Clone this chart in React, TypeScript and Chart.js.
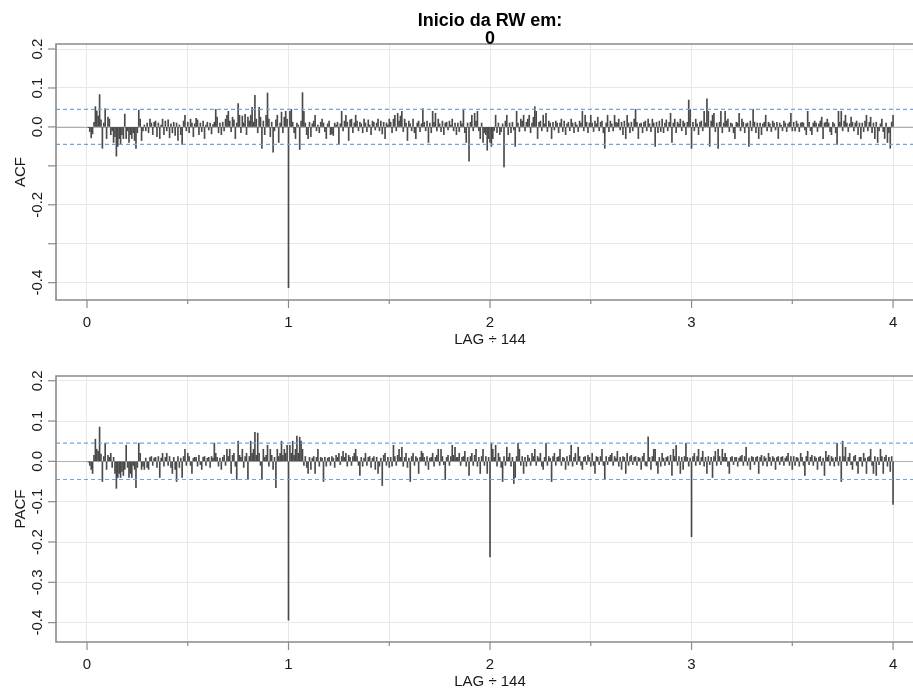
import React, { useEffect, useRef } from "react";
import { Chart, registerables } from "chart.js";
Chart.register(...registerables);

const TITLE_LINES = ["Inicio da RW em:", "0"];
const X_LABEL = "LAG \u00f7 144";
const LAG_DIVISOR = 144;
const LAGS_PER_BLOCK = 24;
const CONF_LIMIT = 0.045;

const X_MAJOR_TICKS = [0, 1, 2, 3, 4];
const X_MINOR_TICKS = [0.5, 1.5, 2.5, 3.5];
const ACF_Y_TICKS = [-0.4, -0.3, -0.2, -0.1, 0, 0.1, 0.2];
const ACF_Y_LABELED = [-0.4, -0.2, 0, 0.1, 0.2];
const PACF_Y_TICKS = [-0.4, -0.3, -0.2, -0.1, 0, 0.1, 0.2];
const PACF_Y_LABELED = [-0.4, -0.3, -0.2, -0.1, 0, 0.1, 0.2];

// ACF values, lags 1..576, in blocks of 24 lags
const ACF_BLOCKS = [
  [-0.002,-0.012,-0.028,-0.018,0.012,0.052,0.041,0.028,0.083,0.018,-0.055,0.010,0.047,-0.030,0.025,0.020,-0.020,-0.010,-0.040,-0.025,-0.075,-0.050,-0.030,-0.045],
  [-0.020,-0.030,0.033,-0.030,-0.010,-0.040,-0.020,-0.030,-0.015,-0.035,-0.055,-0.015,0.043,0.020,-0.035,-0.010,0.005,-0.010,0.010,-0.015,0.020,0.010,-0.020,0.012],
  [0.015,-0.025,0.010,-0.030,0.005,0.020,-0.020,0.015,-0.010,0.018,-0.028,0.008,-0.015,0.012,-0.022,0.010,-0.035,0.005,-0.020,-0.045,0.015,0.030,-0.010,0.012],
  [-0.015,0.020,0.010,-0.025,0.008,0.022,0.018,-0.020,0.010,-0.012,0.015,-0.030,0.005,0.012,-0.008,0.010,-0.018,0.006,0.012,0.045,0.025,-0.015,0.010,-0.020],
  [0.012,-0.010,0.020,0.030,0.040,0.015,-0.012,0.025,0.018,-0.030,0.010,0.060,0.030,-0.015,0.028,0.010,0.032,-0.020,0.025,0.015,0.030,0.050,0.012,0.081],
  [0.020,-0.015,0.050,0.025,-0.055,0.015,-0.020,0.030,0.087,0.020,-0.025,0.012,-0.065,-0.010,0.018,0.030,-0.040,0.010,0.038,-0.015,0.025,0.040,0.020,-0.413],
  [0.040,0.045,0.012,-0.015,-0.030,0.010,0.005,-0.058,0.015,0.088,0.040,0.010,-0.020,-0.030,0.012,-0.025,0.008,0.015,0.030,-0.010,0.005,-0.015,0.012,0.020],
  [0.010,-0.012,-0.030,0.008,0.015,-0.020,-0.018,-0.022,0.010,0.005,0.012,-0.045,0.008,0.040,-0.010,0.015,0.030,0.012,-0.035,0.018,0.020,-0.015,0.010,0.030],
  [0.015,-0.010,0.012,0.008,-0.015,0.020,0.010,-0.012,0.018,0.005,-0.020,0.015,0.012,-0.008,0.010,0.020,-0.010,0.015,-0.018,0.012,-0.030,0.010,0.005,0.020],
  [0.012,-0.015,0.020,0.030,-0.010,0.035,0.015,0.028,0.040,-0.012,0.020,0.010,-0.035,0.015,0.008,-0.010,0.020,-0.015,-0.030,0.010,0.015,-0.012,0.008,0.047],
  [0.012,-0.010,0.015,-0.040,0.010,-0.015,0.040,0.012,0.035,-0.010,0.020,0.008,-0.012,0.015,-0.020,0.010,0.012,-0.008,0.015,0.005,0.020,-0.010,0.010,-0.020],
  [0.010,-0.012,0.015,0.008,0.045,-0.015,-0.040,0.010,-0.088,0.012,0.030,-0.010,0.035,0.015,0.040,-0.010,-0.030,0.010,-0.040,-0.015,-0.020,-0.060,-0.030,-0.040],
  [-0.050,-0.030,-0.010,0.030,-0.015,0.010,-0.020,-0.012,0.008,-0.103,0.015,0.030,-0.020,0.010,-0.015,0.012,-0.008,-0.050,0.040,0.010,-0.012,0.020,0.015,0.030],
  [-0.010,0.012,0.020,0.030,-0.015,0.010,0.025,0.052,0.040,-0.030,0.012,0.015,-0.010,0.030,0.008,0.035,-0.012,0.015,0.010,-0.030,0.012,-0.008,0.015,0.010],
  [-0.015,0.010,0.020,-0.012,0.015,-0.020,0.008,0.012,-0.010,0.020,0.010,-0.015,0.012,0.005,-0.012,0.015,0.010,0.040,-0.010,0.030,0.012,-0.015,0.010,0.030],
  [0.010,-0.012,0.015,0.008,0.025,-0.010,0.012,0.015,-0.015,-0.055,0.010,0.030,-0.012,0.015,0.008,-0.010,0.030,0.012,0.010,0.020,-0.008,0.012,-0.020,0.015],
  [-0.030,0.030,0.010,-0.015,0.012,-0.010,0.020,0.045,0.012,-0.030,0.008,0.010,-0.015,0.012,0.015,-0.010,0.020,0.008,-0.012,0.020,0.010,-0.050,0.012,-0.015],
  [0.015,-0.012,0.020,-0.015,0.010,0.018,-0.010,0.012,0.035,-0.040,0.010,0.020,-0.015,0.012,0.008,0.020,-0.010,0.015,0.010,-0.020,0.012,0.069,0.045,-0.055],
  [0.012,-0.010,0.020,0.008,-0.020,0.012,0.015,-0.010,0.040,0.010,0.072,0.040,-0.050,0.015,0.030,0.035,-0.012,0.010,-0.055,0.012,0.040,-0.015,0.010,0.040],
  [0.015,0.020,-0.012,0.010,0.008,-0.015,-0.030,0.012,0.010,0.035,-0.010,0.020,0.012,-0.015,0.008,0.010,-0.050,0.015,-0.010,0.045,0.012,-0.015,0.010,-0.030],
  [0.010,-0.020,0.008,0.012,0.030,-0.010,0.012,0.008,-0.012,0.015,0.010,-0.008,0.012,-0.030,0.010,0.005,-0.010,0.015,0.010,-0.012,0.008,0.012,0.035,-0.010],
  [0.012,-0.010,0.015,0.008,-0.012,0.010,0.012,0.010,-0.008,-0.020,0.040,0.012,-0.010,-0.020,0.010,0.015,0.010,-0.012,0.008,0.015,0.025,-0.030,0.010,0.012],
  [0.020,0.010,-0.012,-0.020,0.012,0.008,-0.015,-0.045,0.040,0.012,0.040,-0.010,0.015,0.030,0.010,-0.012,0.008,0.025,0.012,-0.010,0.010,0.015,-0.020,0.010],
  [-0.030,0.010,-0.012,0.015,0.030,-0.010,0.012,0.025,-0.015,0.010,-0.030,0.012,-0.040,-0.010,0.008,0.020,-0.012,-0.030,0.010,-0.040,-0.015,-0.055,0.012,0.030],
];

// PACF values, lags 1..576, in blocks of 24 lags
const PACF_BLOCKS = [
  [-0.002,-0.010,-0.020,-0.030,0.015,0.055,0.030,0.025,0.085,0.018,-0.050,0.012,0.045,-0.020,0.015,0.010,0.020,-0.015,0.010,-0.030,-0.067,-0.040,-0.030,-0.040],
  [-0.025,-0.035,-0.020,0.040,-0.015,-0.040,-0.030,-0.040,-0.010,-0.020,-0.065,-0.015,0.045,0.020,-0.020,-0.012,-0.020,0.008,-0.015,-0.020,0.010,0.012,-0.010,0.008],
  [0.010,-0.015,0.012,-0.040,0.008,0.020,-0.012,0.010,0.020,-0.010,0.012,-0.015,-0.030,0.010,-0.020,-0.050,0.012,-0.015,0.008,-0.040,0.012,0.030,-0.010,0.020],
  [0.012,-0.010,-0.030,0.008,0.010,0.010,-0.012,0.015,-0.008,-0.020,0.010,0.012,-0.010,0.008,0.010,-0.015,0.012,0.008,0.045,0.020,0.010,-0.012,0.008,-0.020],
  [0.010,0.015,-0.010,0.030,0.012,0.030,-0.030,0.015,0.020,-0.012,-0.045,0.050,0.015,0.010,0.030,-0.015,0.012,0.020,-0.045,0.012,0.050,0.020,0.030,0.072],
  [0.015,0.070,0.020,-0.010,-0.045,0.030,0.010,0.015,0.040,-0.012,0.030,0.015,-0.020,0.010,-0.065,0.030,0.012,0.020,0.050,0.015,0.030,0.020,0.040,-0.394],
  [0.040,0.020,0.050,0.015,0.030,0.063,0.020,0.060,0.050,0.030,-0.010,0.012,-0.015,-0.030,0.010,-0.020,0.008,0.012,-0.030,0.010,0.030,-0.012,0.010,0.008],
  [-0.050,0.010,-0.012,0.008,0.010,-0.010,0.012,0.008,-0.015,0.015,0.010,0.020,-0.008,0.012,0.025,0.010,0.020,-0.012,0.015,0.010,-0.010,0.012,0.020,0.030],
  [0.012,-0.010,-0.035,0.010,-0.012,0.008,0.020,-0.010,0.010,0.012,-0.015,0.008,0.012,-0.020,0.010,-0.030,-0.012,0.008,-0.060,0.015,0.020,-0.010,0.010,-0.015],
  [0.010,-0.012,0.040,0.012,-0.010,0.015,0.030,0.010,0.035,-0.012,0.010,0.020,-0.015,0.008,-0.050,0.012,0.020,-0.010,0.012,0.008,-0.030,0.010,0.025,0.020],
  [0.010,-0.010,0.012,-0.020,0.008,0.010,0.020,-0.012,0.010,0.015,0.030,-0.010,0.030,0.012,-0.008,-0.045,0.010,0.015,-0.010,0.012,0.040,0.015,0.035,0.010],
  [0.010,0.020,-0.010,0.010,0.012,0.025,-0.012,0.010,-0.035,0.012,0.020,-0.010,0.015,0.030,-0.012,0.010,-0.030,0.012,0.030,-0.010,0.012,-0.030,0.010,-0.237],
  [0.045,0.030,0.010,0.040,-0.012,0.020,0.010,-0.015,-0.050,0.012,-0.010,0.035,0.010,0.020,-0.012,0.010,-0.055,-0.040,0.012,0.045,0.030,-0.010,0.012,-0.030],
  [0.010,-0.012,0.015,0.008,-0.010,0.020,0.012,0.030,-0.010,0.012,0.008,0.020,-0.012,-0.020,0.010,0.045,-0.010,0.012,0.008,-0.050,0.012,0.020,-0.010,0.010],
  [0.012,0.030,-0.010,0.010,0.008,-0.020,0.012,-0.010,0.015,0.040,-0.012,0.010,0.020,-0.008,0.035,0.012,-0.010,-0.020,0.010,0.012,-0.008,0.015,0.010,-0.012],
  [0.020,-0.010,-0.030,0.012,0.010,-0.008,0.012,0.030,-0.010,-0.045,0.012,-0.008,0.010,0.015,0.020,-0.010,0.012,0.008,0.025,-0.012,0.010,-0.020,0.012,0.010],
  [-0.030,0.020,-0.010,0.012,0.015,-0.008,0.010,0.012,-0.010,0.010,0.008,-0.020,0.012,0.020,-0.010,-0.012,0.061,0.010,-0.020,0.012,0.030,0.030,-0.010,-0.030],
  [0.010,-0.012,0.020,0.008,-0.010,0.010,0.012,-0.008,0.015,-0.035,0.030,0.012,0.040,-0.010,0.012,-0.030,0.010,-0.020,0.012,0.045,0.010,-0.012,0.008,-0.187],
  [0.012,0.020,-0.010,0.012,0.030,-0.008,0.010,0.025,-0.012,0.010,-0.030,0.012,-0.008,0.010,-0.040,0.012,0.025,-0.010,0.030,0.012,-0.008,0.030,0.010,0.020],
  [0.010,-0.012,-0.030,0.010,0.012,-0.008,0.010,0.010,-0.012,0.008,0.012,0.015,-0.010,0.012,0.035,-0.010,0.008,-0.020,0.012,0.010,-0.008,0.010,0.012,-0.030],
  [0.010,0.015,-0.010,0.012,0.008,-0.012,0.020,0.010,-0.010,0.012,0.008,-0.020,0.010,0.012,-0.008,0.010,0.012,-0.010,0.008,0.012,0.020,-0.010,0.012,-0.020],
  [0.012,-0.010,0.010,0.008,-0.012,0.020,0.010,-0.010,-0.035,0.012,0.025,-0.008,0.010,0.015,-0.010,0.012,0.008,-0.020,0.010,0.012,-0.010,0.008,-0.035,0.025],
  [0.010,0.015,-0.010,0.012,0.008,-0.012,0.010,0.045,-0.010,0.012,-0.050,0.050,0.012,0.035,-0.010,0.010,0.020,-0.008,-0.020,0.012,0.015,-0.010,-0.030,0.010],
  [0.010,-0.012,0.020,0.008,-0.030,0.010,0.012,0.030,-0.010,-0.030,0.012,-0.035,0.010,-0.008,0.030,0.012,-0.030,0.010,0.015,-0.012,0.010,-0.025,0.012,-0.107],
];

const W = 913;
const H = 690;
const FONT = '"Liberation Sans", Arial, Helvetica, sans-serif';

type Panel = {
  blocks: number[][];
  yLabel: string;
  yMin: number;
  yMax: number;
  top: number;
  bottom: number;
  yTicks: number[];
  yLabeled: number[];
  showTitle: boolean;
};

const X_MIN = -0.1538;
const X_MAX = 4.099;

const PANELS: Panel[] = [
  { blocks: ACF_BLOCKS, yLabel: "ACF", yMin: -0.4445, yMax: 0.2129, top: 44, bottom: 300, yTicks: ACF_Y_TICKS, yLabeled: ACF_Y_LABELED, showTitle: true },
  { blocks: PACF_BLOCKS, yLabel: "PACF", yMin: -0.448, yMax: 0.2117, top: 376, bottom: 642, yTicks: PACF_Y_TICKS, yLabeled: PACF_Y_LABELED, showTitle: false },
];

function toPoints(blocks: number[][]) {
  const pts: { x: number; y: number }[] = [];
  blocks.forEach((row, b) => {
    row.forEach((v, i) => {
      const lag = b * LAGS_PER_BLOCK + i + 1;
      pts.push({ x: lag / LAG_DIVISOR, y: v });
    });
  });
  return pts;
}

function makePlugin(p: Panel) {
  return {
    id: "acfPanel",
    beforeDatasetsDraw(chart: any) {
      const { ctx, chartArea: a, scales } = chart;
      const ys = scales.y;
      ctx.save();
      const y0 = Math.round(ys.getPixelForValue(0)) + 0.5;
      ctx.strokeStyle = "#b0b0b0";
      ctx.lineWidth = 1;
      ctx.beginPath();
      ctx.moveTo(a.left, y0);
      ctx.lineTo(a.right, y0);
      ctx.stroke();
      ctx.restore();
    },
    afterDatasetsDraw(chart: any) {
      const { ctx, chartArea: a, scales } = chart;
      const ys = scales.y;
      ctx.save();
      ctx.strokeStyle = "#6aa6e0";
      ctx.lineWidth = 1.2;
      ctx.setLineDash([4, 3]);
      [CONF_LIMIT, -CONF_LIMIT].forEach((v) => {
        const y = ys.getPixelForValue(v);
        ctx.beginPath();
        ctx.moveTo(a.left, y);
        ctx.lineTo(a.right, y);
        ctx.stroke();
      });
      ctx.restore();
    },
    afterDraw(chart: any) {
      const { ctx, chartArea: a, scales } = chart;
      const xs = scales.x;
      const ys = scales.y;
      ctx.save();
      ctx.strokeStyle = "#8a8a8a";
      ctx.lineWidth = 1.6;
      ctx.beginPath();
      ctx.moveTo(a.right, a.top);
      ctx.lineTo(a.left, a.top);
      ctx.lineTo(a.left, a.bottom);
      ctx.lineTo(a.right, a.bottom);
      ctx.stroke();
      ctx.lineWidth = 1.2;
      X_MAJOR_TICKS.forEach((v) => {
        const x = xs.getPixelForValue(v);
        ctx.beginPath();
        ctx.moveTo(x, a.bottom);
        ctx.lineTo(x, a.bottom + 8);
        ctx.stroke();
      });
      X_MINOR_TICKS.forEach((v) => {
        const x = xs.getPixelForValue(v);
        ctx.beginPath();
        ctx.moveTo(x, a.bottom);
        ctx.lineTo(x, a.bottom + 4);
        ctx.stroke();
      });
      p.yTicks.forEach((v) => {
        const y = ys.getPixelForValue(v);
        ctx.beginPath();
        ctx.moveTo(a.left, y);
        ctx.lineTo(a.left - 8, y);
        ctx.stroke();
      });
      ctx.fillStyle = "#1a1a1a";
      ctx.font = `15px ${FONT}`;
      ctx.textAlign = "center";
      ctx.textBaseline = "alphabetic";
      X_MAJOR_TICKS.forEach((v) => {
        ctx.fillText(String(v), xs.getPixelForValue(v), a.bottom + 27);
      });
      ctx.fillText(X_LABEL, 490, a.bottom + 43.5);
      p.yLabeled.forEach((v) => {
        const y = ys.getPixelForValue(v);
        ctx.save();
        ctx.translate(42, y);
        ctx.rotate(-Math.PI / 2);
        ctx.fillText(v.toFixed(1), 0, 0);
        ctx.restore();
      });
      ctx.save();
      ctx.translate(25, (a.top + a.bottom) / 2);
      ctx.rotate(-Math.PI / 2);
      ctx.fillText(p.yLabel, 0, 0);
      ctx.restore();
      if (p.showTitle) {
        ctx.fillStyle = "#000";
        ctx.font = `bold 18px ${FONT}`;
        ctx.fillText(TITLE_LINES[0], 490, 26);
        ctx.fillText(TITLE_LINES[1], 490, 43.5);
      }
      ctx.restore();
    },
  };
}

function PanelChart({ panel }: { panel: Panel }) {
  const ref = useRef<HTMLCanvasElement | null>(null);
  useEffect(() => {
    if (!ref.current) return;
    const chart = new Chart(ref.current, {
      type: "bar",
      data: {
        datasets: [
          {
            data: toPoints(panel.blocks) as any,
            backgroundColor: "#4a4a4a",
            borderWidth: 0,
            barThickness: 1,
          } as any,
        ],
      },
      options: {
        responsive: false,
        animation: false,
        devicePixelRatio: 1,
        layout: { padding: { top: panel.top, bottom: H - panel.bottom, left: 0, right: 0 } },
        plugins: { legend: { display: false }, tooltip: { enabled: false }, title: { display: false } },
        scales: {
          x: {
            type: "linear",
            min: X_MIN,
            max: X_MAX,
            offset: false,
            grid: { color: "#e8e8e8", lineWidth: 1, drawTicks: false, offset: false },
            border: { display: false },
            ticks: { display: false, stepSize: 0.5, includeBounds: false },
            afterFit: (s: any) => {
              s.height = 0;
            },
          },
          y: {
            type: "linear",
            min: panel.yMin,
            max: panel.yMax,
            grid: { color: "#e8e8e8", lineWidth: 1, drawTicks: false },
            border: { display: false },
            ticks: { display: false, stepSize: 0.1, includeBounds: false },
            afterFit: (s: any) => {
              s.width = 56;
            },
          },
        },
      } as any,
      plugins: [makePlugin(panel)],
    });
    return () => chart.destroy();
  }, [panel]);
  return (
    <canvas
      ref={ref}
      width={W}
      height={H}
      style={{ position: "fixed", left: 0, top: 0, width: W, height: H }}
    />
  );
}

export default function App() {
  return (
    <div style={{ position: "relative", width: W, height: H }}>
      {PANELS.map((p, i) => (
        <PanelChart key={i} panel={p} />
      ))}
    </div>
  );
}
